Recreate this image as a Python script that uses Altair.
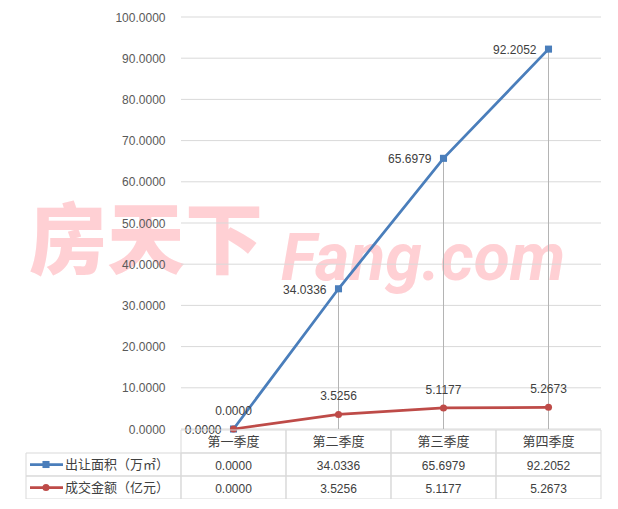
import altair as alt
import pandas as pd

quarters = ["第一季度", "第二季度", "第三季度", "第四季度"]
series_names = ["出让面积（万㎡）", "成交金额（亿元）"]
area_values = [0.0, 34.0336, 65.6979, 92.2052]
amount_values = [0.0, 3.5256, 5.1177, 5.2673]
y_ticks = [0, 10, 20, 30, 40, 50, 60, 70, 80, 90, 100]
row_keys = ["header", "s0", "s1"]
colors = ["#4A7EBB", "#BE4B48"]
shapes = ["square", "circle"]
watermark_cn = "房天下"
watermark_en = "Fang.com"

NUM_FONT = "Liberation Sans"
CJK_FONT = "Noto Sans CJK SC"

rows = []
for s, vals in zip(series_names, [area_values, amount_values]):
    for q, v in zip(quarters, vals):
        rows.append({"series": s, "quarter": q, "value": v, "label": f"{v:.4f}"})
df = pd.DataFrame(rows)

drop_df = pd.DataFrame({"quarter": quarters,
                        "top": [max(a, b) for a, b in zip(area_values, amount_values)]})
drop_df = drop_df[drop_df["top"] > 0]
grid_df = pd.DataFrame({"tick": y_ticks})

cells = []
for q in quarters:
    cells.append({"row": "header", "quarter": q, "text": q, "kind": "cat"})
for key, vals in zip(["s0", "s1"], [area_values, amount_values]):
    for q, v in zip(quarters, vals):
        cells.append({"row": key, "quarter": q, "text": f"{v:.4f}", "kind": "num"})
cells_df = pd.DataFrame(cells)
legend_df = pd.DataFrame({"row": ["s0", "s1"], "series": series_names})

x_scale = alt.Scale(domain=quarters, paddingInner=0, paddingOuter=0)
y_scale = alt.Scale(domain=[0, 100], nice=False, zero=True)
color_scale = alt.Scale(domain=series_names, range=colors)
shape_scale = alt.Scale(domain=series_names, range=shapes)
row_scale = alt.Scale(domain=row_keys, range=[413, 482], paddingInner=0, paddingOuter=0)

xc = alt.X("quarter:N", scale=x_scale, axis=None, bandPosition=0.5)
yv = alt.Y("value:Q", scale=y_scale)
col = alt.Color("series:N", scale=color_scale, legend=None)

watermark1 = alt.Chart(pd.DataFrame({"t": [watermark_cn]})).mark_text(
    font=CJK_FONT, fontSize=78, fontWeight=900, color="#FFD0D4",
    align="center", baseline="middle"
).encode(x=alt.value(-35), y=alt.value(228), text="t:N")

watermark2 = alt.Chart(pd.DataFrame({"t": [watermark_en]})).mark_text(
    font="Roboto", fontSize=66, fontWeight="bold", fontStyle="italic",
    color="#FFD0D4", align="left", baseline="alphabetic"
).encode(x=alt.value(100), y=alt.value(263), text="t:N")

grid = alt.Chart(grid_df).mark_rule(color="#D9D9D9", strokeWidth=1).encode(
    y=alt.Y("tick:Q", scale=y_scale,
            axis=alt.Axis(values=y_ticks, format=".4f", labelColor="#595959",
                          labelFontSize=12, labelFont=NUM_FONT, labelPadding=16,
                          ticks=False, domain=False, grid=False, title=None, zindex=1)),
    x=alt.value(0), x2=alt.value(420)
)

drops = alt.Chart(drop_df).mark_rule(color="#B4B4B4", strokeWidth=1).encode(
    x=xc, y=alt.Y("top:Q", scale=y_scale), y2=alt.datum(0)
)

lines = alt.Chart(df).mark_line(strokeWidth=2.75).encode(x=xc, y=yv, color=col)
points = alt.Chart(df).mark_point(filled=True, size=50, opacity=1).encode(
    x=xc, y=yv, color=col, shape=alt.Shape("series:N", scale=shape_scale, legend=None)
)

lab_blue = alt.Chart(df).transform_filter(
    alt.datum.series == series_names[0]
).mark_text(font=NUM_FONT, fontSize=12, color="#404040", align="right",
            baseline="middle", dx=-12, dy=1).encode(x=xc, y=yv, text="label:N")

lab_red = alt.Chart(df).transform_filter(
    alt.datum.series == series_names[1]
).mark_text(font=NUM_FONT, fontSize=12, color="#404040", align="center",
            baseline="middle", dy=-18).encode(x=xc, y=yv, text="label:N")

main = alt.layer(watermark1, watermark2, grid, drops, lines, points, lab_blue, lab_red)

ty = alt.Y("row:N", scale=row_scale, axis=None)
tyc = alt.Y("row:N", scale=row_scale, axis=None, bandPosition=0.5)
tx = alt.X("quarter:N", scale=x_scale, axis=None)

cell_rects = alt.Chart(cells_df).mark_rect(
    fillOpacity=0, stroke="#D9D9D9", strokeWidth=1
).encode(x=tx, y=ty)

legend_rects = alt.Chart(legend_df).mark_rect(
    fillOpacity=0, stroke="#D9D9D9", strokeWidth=1
).encode(x=alt.value(-155), x2=alt.value(0), y=ty)

legend_rule = alt.Chart(legend_df).mark_rule(strokeWidth=2.75).encode(
    x=alt.value(-151), x2=alt.value(-118), y=tyc, color=col
)
legend_pts = alt.Chart(legend_df).mark_point(filled=True, size=50, opacity=1).encode(
    x=alt.value(-135), y=tyc, color=col,
    shape=alt.Shape("series:N", scale=shape_scale, legend=None)
)
legend_text = alt.Chart(legend_df).mark_text(
    font=CJK_FONT, fontSize=13, color="#404040", align="left", baseline="middle"
).encode(x=alt.value(-116), y=tyc, text="series:N")

cat_text = alt.Chart(cells_df).transform_filter(alt.datum.kind == "cat").mark_text(
    font=CJK_FONT, fontSize=13, color="#404040", align="center", baseline="middle"
).encode(x=alt.X("quarter:N", scale=x_scale, axis=None, bandPosition=0.5), y=tyc, text="text:N")

num_text = alt.Chart(cells_df).transform_filter(alt.datum.kind == "num").mark_text(
    font=NUM_FONT, fontSize=12, color="#404040", align="center", baseline="middle", dy=1
).encode(x=alt.X("quarter:N", scale=x_scale, axis=None, bandPosition=0.5), y=tyc, text="text:N")

table = alt.layer(cell_rects, legend_rects, legend_rule, legend_pts, legend_text, cat_text, num_text)

chart = alt.layer(main, table).resolve_scale(y="independent").properties(
    width=420, height=412,
    autosize=alt.AutoSizeParams(type="none"),
    padding={"left": 173, "top": 9, "right": 9, "bottom": 70},
    background="white"
).configure_view(stroke=None)

chart.save("out.html", embed_options={"renderer": "svg", "actions": False})
